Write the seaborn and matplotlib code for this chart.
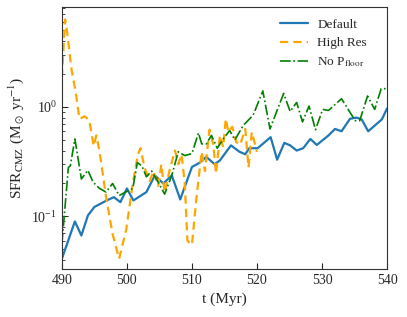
import numpy as np
import pandas as pd
import matplotlib
matplotlib.use("Agg")
import matplotlib.pyplot as plt
import seaborn as sns

# Default run
t_default = [490, 492, 493, 494, 495, 496.9, 498, 499, 500, 501, 503, 504.3, 505.6,
             506.9, 508.2, 510, 511.2, 512.2, 513.5, 514.3, 516.0, 517.3, 518.2,
             518.8, 520.1, 522.1, 523.1, 524.2, 525.1, 526.1, 527.1, 528.2, 529.2,
             531, 532, 533, 534.3, 535.3, 536.1, 537.1, 539.2, 540]
sfr_default = [0.041, 0.09, 0.067, 0.102, 0.122, 0.14, 0.15, 0.135, 0.18, 0.14, 0.167,
               0.237, 0.2, 0.237, 0.143, 0.283, 0.31, 0.35, 0.30, 0.325, 0.446, 0.39,
               0.37, 0.42, 0.42, 0.53, 0.33, 0.47, 0.446, 0.40, 0.42, 0.51, 0.45,
               0.55, 0.63, 0.60, 0.78, 0.80, 0.77, 0.60, 0.77, 0.97]

# High resolution run
t_hires = [490, 490.5, 490.8, 491.5, 492.1, 492.7, 493.5, 494.2, 494.9, 495.3, 495.8,
           496.8, 497.8, 498.8, 499.9, 500.9, 501.7, 502.1, 502.7, 503.5, 504.1, 504.8,
           505.3, 505.8, 506.6, 507.4, 507.9, 508.4, 508.9, 509.3, 510, 510.7, 511.5,
           512, 512.7, 513.3, 513.7, 514.3, 514.8, 515.2, 515.6, 516.2, 516.8, 517.4,
           518.2, 518.7, 519.2, 520]
sfr_hires = [1.85, 6.3, 4.9, 2.17, 1.4, 0.78, 0.82, 0.76, 0.44, 0.55, 0.39,
             0.15, 0.069, 0.041, 0.076, 0.2, 0.37, 0.42, 0.28, 0.21, 0.26, 0.19,
             0.30, 0.165, 0.27, 0.40, 0.30, 0.37, 0.2, 0.06, 0.055, 0.15, 0.39,
             0.26, 0.62, 0.45, 0.245, 0.55, 0.43, 0.78, 0.59, 0.66, 0.48, 0.45,
             0.63, 0.28, 0.59, 0.39]

# No pressure floor run
t_nofloor = [490, 491, 491.3, 492, 493, 494, 494.8, 495.8, 496.8, 497.8, 498.8, 499.8,
             500.9, 501.6, 502.3, 503, 503.8, 504.8, 505.8, 506.9, 507.9, 508.9, 510,
             511, 511.5, 512.2, 513, 513.9, 514.8, 515.8, 516.6, 517.9, 519.4, 520.9,
             522, 524.1, 525.1, 526.1, 527, 528, 529, 530.1, 531, 533, 535.1, 535.8,
             537, 538.1, 539.1, 540]
sfr_nofloor = [0.056, 0.28, 0.29, 0.51, 0.22, 0.264, 0.206, 0.18, 0.167, 0.2, 0.155, 0.167,
               0.18, 0.31, 0.29, 0.23, 0.26, 0.206, 0.16, 0.237, 0.39, 0.36, 0.375,
               0.58, 0.46, 0.46, 0.55, 0.42, 0.51, 0.61, 0.5, 0.68, 0.84, 1.4,
               0.63, 1.33, 0.91, 1.1, 0.73, 1.02, 0.62, 0.95, 0.93, 1.19, 0.75, 0.75,
               1.26, 0.95, 1.47, 1.47]

sns.set_style("ticks")
plt.rcParams['font.family'] = ['Liberation Serif', 'DejaVu Serif']
plt.rcParams['mathtext.fontset'] = 'stix'
plt.rcParams['xtick.direction'] = 'in'
plt.rcParams['ytick.direction'] = 'in'

fig = plt.figure(figsize=(4.07, 3.17), dpi=100)
ax = fig.add_axes([0.152, 0.151, 0.799, 0.827])

dash = (0, (3.7, 2.3))
sns.lineplot(x=t_default, y=sfr_default, color='#1f77b4', lw=1.6, label='Default', ax=ax)
sns.lineplot(x=t_hires, y=sfr_hires, color='orange', lw=1.6, label='High Res', ax=ax)
sns.lineplot(x=t_nofloor, y=sfr_nofloor, color='green', lw=1.2,
             label=r'No P$_{\rm floor}$', ax=ax)
ax.lines[1].set_linestyle(dash)
ax.lines[2].set_linestyle('-.')

ax.set_yscale('log')
ax.set_xlim(490, 540)
ax.set_ylim(0.033, 8.2)
ax.set_xticks([490, 500, 510, 520, 530, 540])
ax.set_xlabel('t (Myr)', fontsize=11)
ax.set_ylabel(r'SFR$_{\rm CMZ}$ (M$_\odot$ yr$^{-1}$)', fontsize=11)
ax.tick_params(labelsize=10)
ax.tick_params(which='major', length=4)
ax.tick_params(which='minor', length=2.5)
for s in ax.spines.values():
    s.set_color('#333333')

leg = ax.legend(loc='upper right', bbox_to_anchor=(0.975, 1.0), frameon=False,
                fontsize=9.5, handlelength=2.1, handletextpad=0.7, labelspacing=0.45)
for h, ls in zip(leg.get_lines(), ['-', dash, '-.']):
    h.set_linestyle(ls)

fig.savefig('out.png', dpi=100)
